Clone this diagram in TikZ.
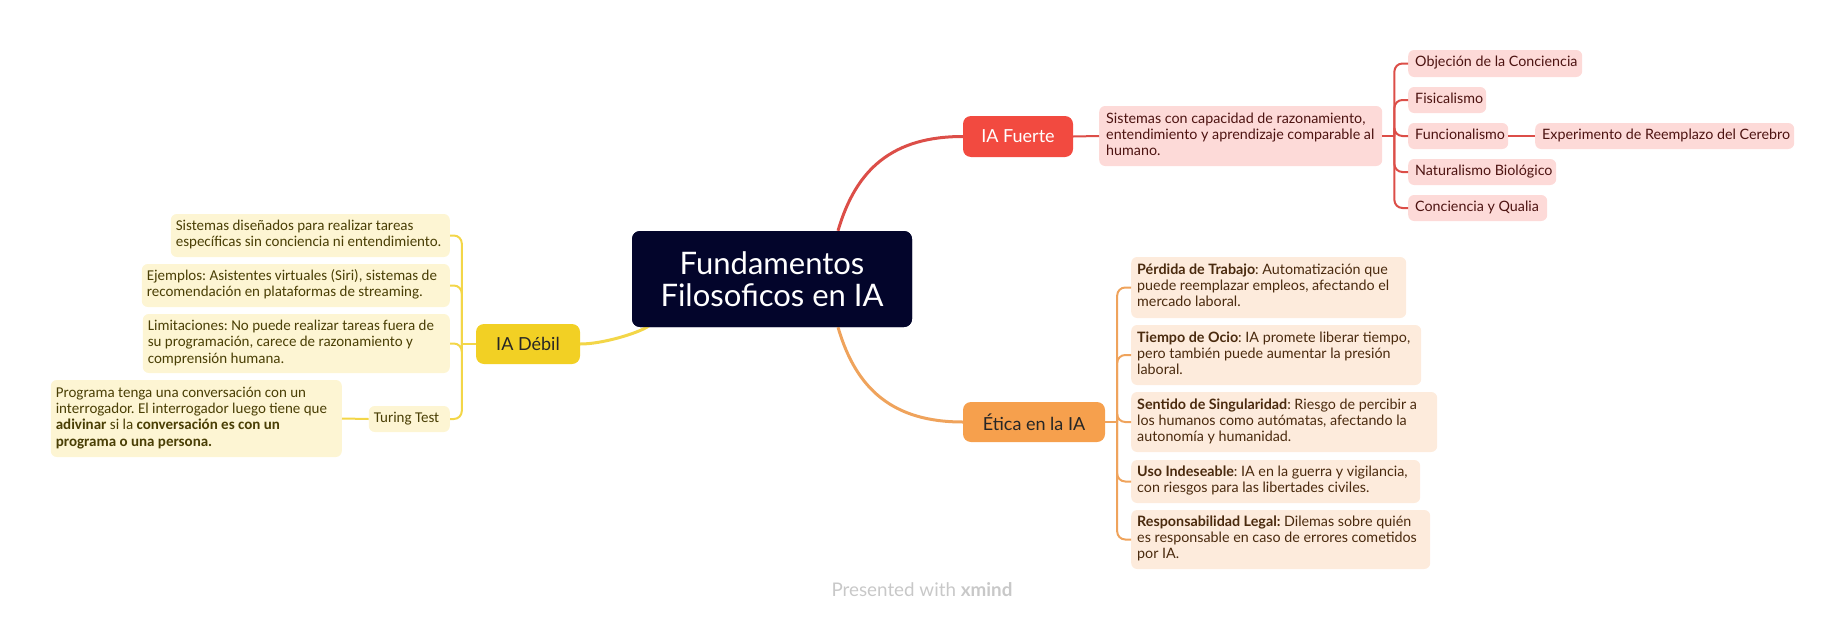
\documentclass[tikz,border=0pt]{standalone}
\usepackage{fontspec}
\setmainfont{Lato}
\newfontfamily\leftfont{Carlito}
\usetikzlibrary{calc}
\definecolor{navy}{HTML}{03052B}
\definecolor{redmain}{HTML}{F24A40}
\definecolor{redline}{HTML}{DC4E48}
\definecolor{pinkfill}{HTML}{FDDAD8}
\definecolor{redtext}{HTML}{4D1311}
\definecolor{orangemain}{HTML}{F6A04D}
\definecolor{orangeline}{HTML}{EFA35C}
\definecolor{orangefill}{HTML}{FDEBDC}
\definecolor{browntext}{HTML}{4A2A0E}
\definecolor{yellowmain}{HTML}{F2D024}
\definecolor{yellowline}{HTML}{F3D648}
\definecolor{yellowfill}{HTML}{FDF5D3}
\definecolor{olivetext}{HTML}{4A3F05}
\definecolor{wmgray}{HTML}{C8C8C8}
\newcommand{\tb}[2]{\makebox[#1][l]{\begin{tabular}{@{}l@{}}#2\end{tabular}}}
\frenchspacing
\begin{document}
\begin{tikzpicture}[x=1pt,y=-1pt,
  base/.style={rounded corners=6pt, inner ysep=0pt, anchor=west},
  rbox/.style={base, fill=pinkfill, text=redtext, inner xsep=7pt,
    font=\fontsize{14.3}{16}\selectfont\frenchspacing},
  obox/.style={base, fill=orangefill, text=browntext, inner xsep=6pt,
    font=\fontsize{14.3}{16}\selectfont\frenchspacing},
  ybox/.style={base, anchor=east, fill=yellowfill, text=olivetext, inner xsep=5pt,
    font=\leftfont\fontsize{15}{16.3}\selectfont\frenchspacing},
  mainbox/.style={rounded corners=8pt, inner sep=0pt, align=center, font=\fontsize{18}{20}\selectfont},
  mline/.style={line width=3pt},
  sline/.style={line width=2pt},
  brk/.style={line width=2pt, rounded corners=8pt}
]
\useasboundingbox (0,0) rectangle (1845,621);

% centre
\node[rounded corners=8pt, fill=navy, text=white, minimum width=280pt, minimum height=96pt,
  inner sep=0pt, align=center, font=\fontsize{31}{32}\selectfont] (center) at (772,279)
  {Fundamentos\\Filosoficos en IA};

% IA Fuerte
\node[mainbox, fill=redmain, text=white, minimum width=110pt, minimum height=41pt] (fuerte) at (1018,136.5) {IA Fuerte};
\node[rbox, minimum height=60pt] (desc) at (1099,136)
  {\tb{269pt}{Sistemas con capacidad de razonamiento,\\entendimiento y aprendizaje comparable al\\humano.}};
\node[rbox, minimum height=27pt] (obj) at (1408,63.5) {\tb{160pt}{Objeción de la Conciencia}};
\node[rbox, minimum height=26pt] (fis) at (1408,100) {\tb{64pt}{Fisicalismo}};
\node[rbox, minimum height=26pt] (fun) at (1408,136) {\tb{86pt}{Funcionalismo}};
\node[rbox, minimum height=26pt] (exp) at (1535,136) {\tb{245pt}{Experimento de Reemplazo del Cerebro}};
\node[rbox, minimum height=26pt] (nat) at (1408,172) {\tb{134pt}{Naturalismo Biológico}};
\node[rbox, minimum height=26pt] (qua) at (1408,208) {\tb{125pt}{Conciencia y Qualia}};

% Etica
\node[mainbox, fill=orangemain, text=black!85, minimum width=142pt, minimum height=40pt] (etica) at (1034,422) {Ética en la IA};
\node[obox, minimum height=61pt] (per) at (1131,287.5)
  {\tb{263pt}{\textbf{Pérdida de Trabajo}: Automatización que\\puede reemplazar empleos, afectando el\\mercado laboral.}};
\node[obox, minimum height=60pt] (tie) at (1131,355)
  {\tb{278pt}{\textbf{Tiempo de Ocio}: IA promete liberar tiempo,\\pero también puede aumentar la presión\\laboral.}};
\node[obox, minimum height=60pt] (sen) at (1131,422)
  {\tb{294pt}{\textbf{Sentido de Singularidad}: Riesgo de percibir a\\los humanos como autómatas, afectando la\\autonomía y humanidad.}};
\node[obox, minimum height=43pt] (uso) at (1131,481.5)
  {\tb{277pt}{\textbf{Uso Indeseable}: IA en la guerra y vigilancia,\\con riesgos para las libertades civiles.}};
\node[obox, minimum height=59pt] (res) at (1131,539.5)
  {\tb{287pt}{\textbf{Responsabilidad Legal:} Dilemas sobre quién\\es responsable en caso de errores cometidos\\por IA.}};

% IA Debil
\node[mainbox, fill=yellowmain, text=black!85, minimum width=104pt, minimum height=40pt] (debil) at (528,344) {IA Débil};
\node[ybox, minimum height=43pt] (sis) at (450,235.5)
  {\tb{269pt}{Sistemas diseñados para realizar tareas\\específicas sin conciencia ni entendimiento.}};
\node[ybox, minimum height=43pt] (eje) at (450,285.5)
  {\tb{298pt}{Ejemplos: Asistentes virtuales (Siri), sistemas de\\recomendación en plataformas de streaming.}};
\node[ybox, minimum height=59pt] (lim) at (450,343.5)
  {\tb{297pt}{Limitaciones: No puede realizar tareas fuera de\\su programación, carece de razonamiento y\\comprensión humana.}};
\node[ybox, minimum height=26pt] (tur) at (450,419) {\tb{71pt}{Turing Test}};
\node[ybox, minimum height=77pt] (pro) at (342,418.5)
  {\tb{281pt}{Programa tenga una conversación con un\\interrogador. El interrogador luego tiene que\\\textbf{adivinar} si la \textbf{conversación es con un}\\\textbf{programa o una persona.}}};

% main connectors
\draw[mline, redline] ($(center.north)+(66,0)$) .. controls ($(center.north)+(84,-62)$) and ($(fuerte.west)+(-70,0)$) .. (fuerte.west);
\draw[mline, orangeline] ($(center.south)+(66,0)$) .. controls ($(center.south)+(84,62)$) and ($(etica.west)+(-70,0)$) .. (etica.west);
\draw[mline, yellowline] (debil.east) .. controls ($(debil.east)+(30,0)$) and ($(center.south)+(-112,-2)$) .. ($(center.south)+(-124,-4)$);

% Fuerte branches
\draw[sline, redline] (fuerte.east) -- (desc.west);
\coordinate (fb) at ($(desc.east)+(12,0)$);
\draw[sline, redline] (desc.east) -- (fb);
\foreach \c in {obj,fis,fun,nat,qua} \draw[brk, redline] (fb) |- (\c.west);
\draw[sline, redline] (fun.east) -- (exp.west);

% Etica branches
\coordinate (eb) at ($(etica.east)+(12,0)$);
\draw[sline, orangeline] (etica.east) -- (eb);
\foreach \c in {per,tie,sen,uso,res} \draw[brk, orangeline] (eb) |- (\c.west);

% Debil branches
\coordinate (db) at ($(debil.west)+(-14,0)$);
\draw[sline, yellowline] (debil.west) -- (db);
\foreach \c in {sis,eje,lim,tur} \draw[brk, yellowline] (db) |- (\c.east);
\draw[sline, yellowline] (tur.west) -- (pro.east);

% centre drawn again on top of its connectors
\node[rounded corners=8pt, fill=navy, text=white, minimum width=280pt, minimum height=96pt,
  inner sep=0pt, align=center, font=\fontsize{31}{32}\selectfont] (centertop) at (center.center)
  {Fundamentos\\Filosoficos en IA};

% watermark
\node[text=wmgray, font=\fontsize{18.8}{20}\selectfont, inner sep=0pt] (wm) at (922,590) {Presented with \textbf{xmind}};
\end{tikzpicture}
\end{document}
